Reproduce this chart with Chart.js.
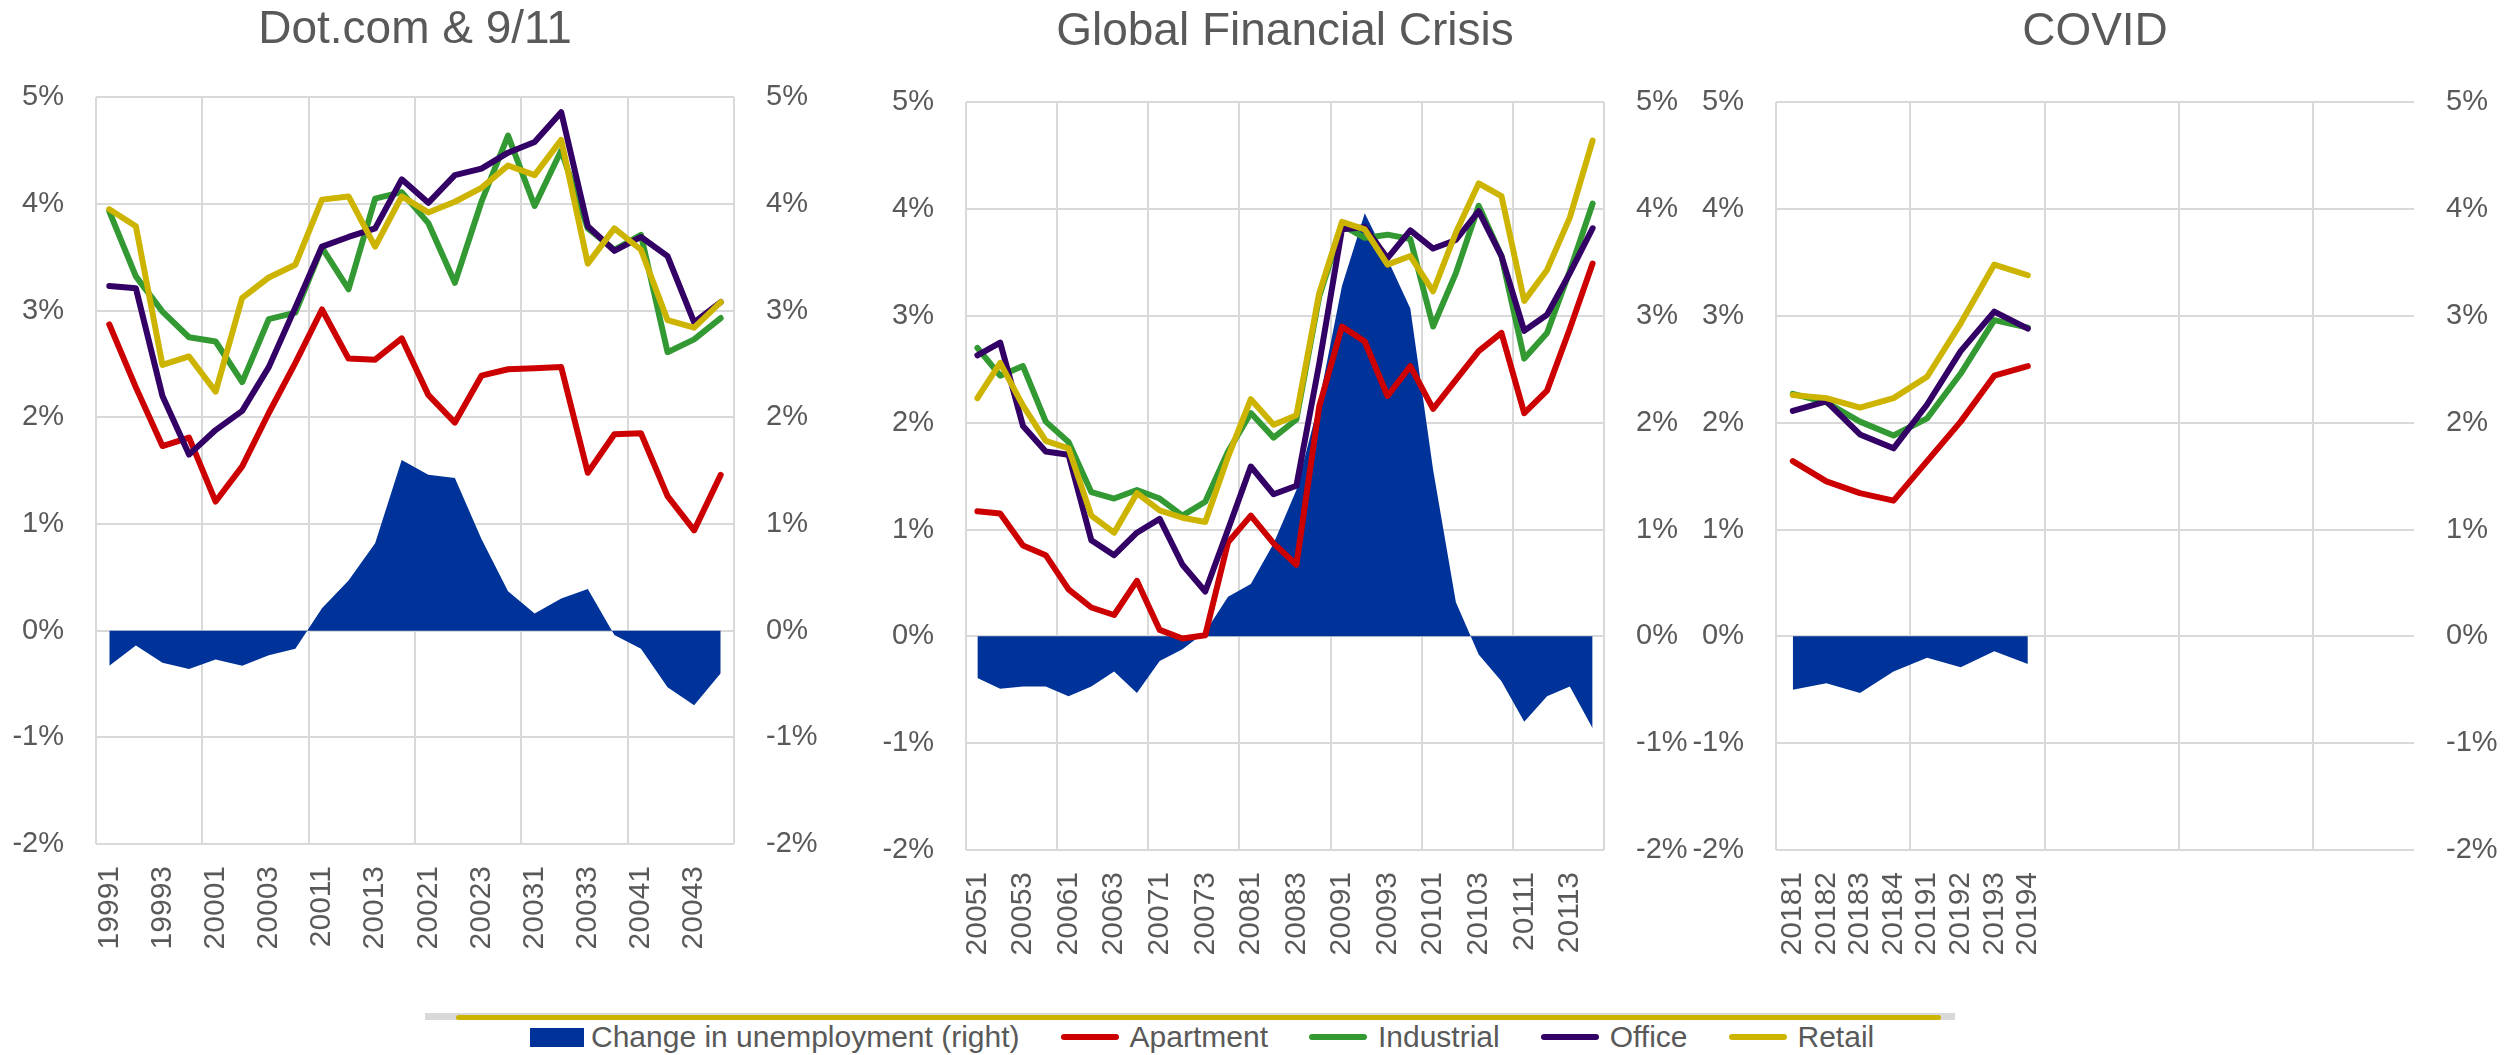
<!DOCTYPE html>
<html>
<head>
<meta charset="utf-8">
<title>Cap rate spread vs unemployment</title>
<script src="https://cdn.jsdelivr.net/npm/chart.js@4.4.1/dist/chart.umd.min.js"></script>
<style>
  body { margin: 0; background: #fff; width: 2514px; height: 1055px; overflow: hidden; position: relative;
         font-family: "Liberation Sans", Arial, sans-serif; color: #595959; }
  canvas { position: absolute; top: 0; }
  #rule1 { position: absolute; left: 425px; top: 1013px; width: 1530px; height: 7px; background: #d9d9d9; }
  #rule2 { position: absolute; left: 456px; top: 1015px; width: 1485px; height: 5px; background: #ccb400; border-radius: 3px; }
  #legend { position: absolute; left: 530px; top: 1019px; display: flex; align-items: center;
            font-size: 30px; line-height: 36px; white-space: nowrap; }
  .item { display: flex; align-items: center; margin-right: 41px; }
  .box { width: 54px; height: 19px; margin-right: 7px; }
  .line { width: 58px; height: 6px; border-radius: 3px; margin-right: 11px; }
</style>
</head>
<body>
<canvas id="dotcom" width="830" height="1000" style="left:0px"></canvas>
<canvas id="gfc" width="830" height="1000" style="left:870px"></canvas>
<canvas id="covid" width="830" height="1000" style="left:1680px"></canvas>
<div id="rule1"></div>
<div id="rule2"></div>
<div id="legend"></div>

<script>
// Dot.com & 9/11
const dotcomQuarters = ['19991', '19992', '19993', '19994', '20001', '20002', '20003', '20004',
    '20011', '20012', '20013', '20014', '20021', '20022', '20023', '20024',
    '20031', '20032', '20033', '20034', '20041', '20042', '20043', '20044'];
const dotcomUnemp = [-0.33, -0.14, -0.30, -0.36, -0.27, -0.33, -0.23, -0.17, 0.21, 0.47, 0.82, 1.60,
    1.46, 1.43, 0.86, 0.37, 0.16, 0.30, 0.39, -0.04, -0.17, -0.53, -0.70, -0.40];
const dotcomApartment = [2.87, 2.28, 1.73, 1.81, 1.21, 1.54, 2.04, 2.51, 3.01, 2.55, 2.54, 2.74,
    2.21, 1.95, 2.39, 2.45, 2.46, 2.47, 1.48, 1.84, 1.85, 1.26, 0.94, 1.46];
const dotcomIndustrial = [3.93, 3.32, 2.99, 2.75, 2.71, 2.33, 2.92, 2.98, 3.59, 3.20, 4.05, 4.11,
    3.82, 3.26, 4.02, 4.64, 3.98, 4.50, 3.77, 3.57, 3.71, 2.61, 2.73, 2.93];
const dotcomOffice = [3.23, 3.21, 2.20, 1.65, 1.88, 2.06, 2.47, 3.03, 3.60, 3.69, 3.77, 4.23,
    4.01, 4.27, 4.33, 4.48, 4.58, 4.86, 3.79, 3.56, 3.69, 3.51, 2.89, 3.08];
const dotcomRetail = [3.95, 3.79, 2.49, 2.57, 2.24, 3.12, 3.31, 3.43, 4.04, 4.07, 3.60, 4.07,
    3.92, 4.02, 4.15, 4.36, 4.27, 4.60, 3.44, 3.77, 3.57, 2.91, 2.84, 3.08];

// Global Financial Crisis
const gfcQuarters = ['20051', '20052', '20053', '20054', '20061', '20062', '20063', '20064',
    '20071', '20072', '20073', '20074', '20081', '20082', '20083', '20084',
    '20091', '20092', '20093', '20094', '20101', '20102', '20103', '20104',
    '20111', '20112', '20113', '20114'];
const gfcUnemp = [-0.39, -0.49, -0.47, -0.47, -0.56, -0.47, -0.33, -0.53, -0.23, -0.12, 0.04, 0.37,
    0.49, 0.87, 1.37, 2.20, 3.28, 3.96, 3.53, 3.07, 1.56, 0.32, -0.17, -0.42, -0.80, -0.56, -0.47, -0.86];
const gfcApartment = [1.17, 1.15, 0.85, 0.76, 0.44, 0.27, 0.20, 0.52, 0.06, -0.02, 0.01, 0.88,
    1.13, 0.87, 0.67, 2.15, 2.90, 2.76, 2.25, 2.53, 2.13, 2.40, 2.67, 2.84, 2.09, 2.30, 2.88, 3.49];
const gfcIndustrial = [2.70, 2.44, 2.53, 2.01, 1.82, 1.35, 1.29, 1.37, 1.29, 1.13, 1.26, 1.73,
    2.09, 1.86, 2.03, 3.18, 3.85, 3.73, 3.76, 3.72, 2.90, 3.40, 4.03, 3.56, 2.60, 2.84, 3.42, 4.05];
const gfcOffice = [2.63, 2.75, 1.97, 1.73, 1.70, 0.90, 0.76, 0.97, 1.10, 0.67, 0.42, 1.00,
    1.59, 1.33, 1.41, 2.55, 3.81, 3.83, 3.54, 3.80, 3.63, 3.71, 3.98, 3.56, 2.86, 3.01, 3.40, 3.82];
const gfcRetail = [2.23, 2.56, 2.16, 1.83, 1.76, 1.13, 0.97, 1.34, 1.18, 1.11, 1.07, 1.68,
    2.22, 1.98, 2.07, 3.21, 3.88, 3.81, 3.48, 3.56, 3.23, 3.78, 4.24, 4.12, 3.14, 3.43, 3.92, 4.64];

// COVID (axis keeps room for quarters not yet reported)
const covidQuarters = ['20181', '20182', '20183', '20184', '20191', '20192', '20193', '20194'];
const covidBlankQuarters = 11;
const covidUnemp = [-0.50, -0.44, -0.53, -0.33, -0.20, -0.29, -0.14, -0.26];
const covidApartment = [1.64, 1.45, 1.34, 1.27, 1.64, 2.01, 2.44, 2.53];
const covidIndustrial = [2.27, 2.19, 2.01, 1.88, 2.04, 2.46, 2.96, 2.89];
const covidOffice = [2.11, 2.20, 1.89, 1.76, 2.17, 2.67, 3.04, 2.88];
const covidRetail = [2.26, 2.23, 2.14, 2.23, 2.43, 2.93, 3.48, 3.38];

const yTicks = [-2, -1, 0, 1, 2, 3, 4, 5];
const seriesNames = ['Change in unemployment (right)', 'Apartment', 'Industrial', 'Office', 'Retail'];
const seriesColors = ['#003399', '#cc0000', '#339933', '#330066', '#ccb400'];

const textColor = '#595959';
const gridColor = '#d9d9d9';
const fontFamily = '"Liberation Sans", Arial, sans-serif';

function lineSet(i, data) {
    return {
        label: seriesNames[i],
        data: data,
        yAxisID: 'y',
        borderColor: seriesColors[i],
        backgroundColor: seriesColors[i],
        borderWidth: 6,
        borderCapStyle: 'round',
        borderJoinStyle: 'round',
        pointRadius: 0,
        tension: 0,
        fill: false,
        order: 5 - i
    };
}

function yAxis(pos) {
    return {
        position: pos,
        min: yTicks[0],
        max: yTicks[yTicks.length - 1],
        ticks: {
            stepSize: 1,
            padding: pos === 'left' ? 32 : 32,
            color: textColor,
            font: { family: fontFamily, size: 29 },
            callback: v => v + '%'
        },
        grid: pos === 'left'
            ? { color: gridColor, lineWidth: 2, drawTicks: false }
            : { display: false, drawTicks: false },
        border: { display: false },
        afterFit: s => { s.width = 96; }
    };
}

function buildPanel(id, title, labels, unemp, apt, ind, off, ret, labelEvery, layout) {
    const n = labels.length;
    new Chart(document.getElementById(id), {
        type: 'line',
        data: {
            labels: labels,
            datasets: [
                {
                    label: seriesNames[0],
                    data: unemp,
                    yAxisID: 'y1',
                    borderWidth: 0,
                    borderColor: seriesColors[0],
                    backgroundColor: seriesColors[0],
                    pointRadius: 0,
                    tension: 0,
                    fill: 'origin',
                    order: 5
                },
                lineSet(1, apt),
                lineSet(2, ind),
                lineSet(3, off),
                lineSet(4, ret)
            ]
        },
        options: {
            responsive: false,
            animation: false,
            layout: { padding: 0 },
            plugins: {
                legend: { display: false },
                tooltip: { enabled: false },
                title: {
                    display: true,
                    text: title,
                    color: textColor,
                    font: { family: fontFamily, size: 46, weight: 'normal' },
                    padding: { top: layout.titleTop, bottom: layout.titleBottom }
                }
            },
            scales: {
                x: {
                    offset: true,
                    grid: {
                        offset: true,
                        drawTicks: false,
                        lineWidth: 2,
                        color: c => ((c.index ?? n) % 4 === 0 ? gridColor : 'rgba(0,0,0,0)')
                    },
                    border: { display: false },
                    ticks: {
                        autoSkip: false,
                        minRotation: 90,
                        maxRotation: 90,
                        padding: 22,
                        color: textColor,
                        font: { family: fontFamily, size: 30 },
                        callback: function (v, i) {
                            return i % labelEvery === 0 ? this.getLabelForValue(v) : '';
                        }
                    },
                    afterFit: s => { s.height = layout.axisHeight; }
                },
                y: yAxis('left'),
                y1: yAxis('right')
            }
        }
    });
}

buildPanel('dotcom', 'Dot.com & 9/11', dotcomQuarters, dotcomUnemp, dotcomApartment,
    dotcomIndustrial, dotcomOffice, dotcomRetail, 2, { titleTop: 3, titleBottom: 39, axisHeight: 156 });
buildPanel('gfc', 'Global Financial Crisis', gfcQuarters, gfcUnemp, gfcApartment,
    gfcIndustrial, gfcOffice, gfcRetail, 2, { titleTop: 5, titleBottom: 42, axisHeight: 150 });
buildPanel('covid', 'COVID', covidQuarters.concat(Array(covidBlankQuarters).fill('')), covidUnemp,
    covidApartment, covidIndustrial, covidOffice, covidRetail, 1, { titleTop: 5, titleBottom: 42, axisHeight: 150 });

// shared legend
const legend = document.getElementById('legend');
seriesNames.forEach((name, i) => {
    const item = document.createElement('div');
    item.className = 'item';
    const mark = document.createElement('span');
    mark.className = i === 0 ? 'box' : 'line';
    mark.style.background = seriesColors[i];
    const txt = document.createElement('span');
    txt.innerText = name;
    item.appendChild(mark);
    item.appendChild(txt);
    legend.appendChild(item);
});
</script>
</body>
</html>
